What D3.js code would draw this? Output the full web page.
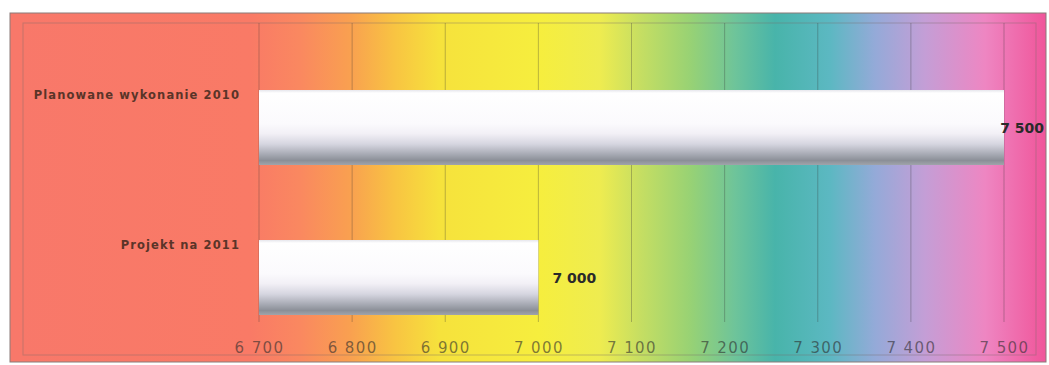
<!DOCTYPE html>
<html>
<head>
<meta charset="utf-8">
<script src="https://cdn.jsdelivr.net/npm/d3@7"></script>
<style>
  html, body { margin: 0; padding: 0; background: #ffffff; }
  svg { display: block; }
</style>
</head>
<body>
<svg id="chart" width="1049" height="365"></svg>
<script>
// Categories and values (thousands)
const categories = ["Planowane wykonanie 2010", "Projekt na 2011"];
const values = [7500, 7000];
const tickValues = [6700, 6800, 6900, 7000, 7100, 7200, 7300, 7400, 7500];

const W = 1049, H = 365;
const svg = d3.select("#chart");
const defs = svg.append("defs");

const locale = d3.formatLocale({ decimal: ",", thousands: "\u00a0", grouping: [3], currency: ["", " zł"] });
const fmt = locale.format(",d");

// Rainbow backdrop
const bg = defs.append("linearGradient").attr("id", "rainbow")
  .attr("gradientUnits", "userSpaceOnUse")
  .attr("x1", 10).attr("x2", 1046).attr("y1", 0).attr("y2", 0);
[
  [10, "#f8786a"], [250, "#f97a66"], [300, "#fa8860"], [350, "#f9a050"],
  [395, "#f8c442"], [440, "#f6e23c"], [540, "#f6ee3e"], [600, "#eeec50"],
  [640, "#c6de62"], [690, "#98d274"], [735, "#6ec49a"], [775, "#48b4aa"],
  [830, "#5cb8c2"], [875, "#94aad8"], [925, "#c49ed6"], [985, "#ee86c2"],
  [1046, "#f0559a"]
].forEach(([x, c]) => bg.append("stop").attr("offset", (x - 10) / 1036).attr("stop-color", c));

// Cylinder-like shading for the bars
const barGrad = defs.append("linearGradient").attr("id", "barShade")
  .attr("x1", 0).attr("x2", 0).attr("y1", 0).attr("y2", 1);
[
  [0, "#e6e6ec"], [0.04, "#ffffff"], [0.45, "#fbfafd"], [0.58, "#f2f0f6"],
  [0.72, "#d6d6e0"], [0.86, "#a6a9b3"], [0.94, "#8b8f97"], [1, "#a0a4ab"]
].forEach(([o, c]) => barGrad.append("stop").attr("offset", o).attr("stop-color", c));

// Chart area
svg.append("rect").attr("x", 10).attr("y", 13).attr("width", 1036).attr("height", 349)
  .attr("fill", "url(#rainbow)").attr("stroke", "#8a7a78").attr("stroke-width", 1);
svg.append("rect").attr("x", 23).attr("y", 23).attr("width", 1013).attr("height", 332)
  .attr("fill", "none").attr("stroke", "#7a6a68").attr("stroke-opacity", 0.4).attr("stroke-width", 1);

const x = d3.scaleLinear().domain([6700, 7500]).range([259, 1004]);
const y = d3.scaleBand().domain(categories).range([52.5, 352.5])
  .paddingInner(0.5).paddingOuter(0.25);

// Vertical gridlines
svg.append("g").selectAll("line").data(tickValues).join("line")
  .attr("x1", d => x(d)).attr("x2", d => x(d))
  .attr("y1", 23).attr("y2", 322)
  .attr("stroke", "#333333").attr("stroke-opacity", 0.3).attr("stroke-width", 1);

// Bars
svg.append("g").selectAll("rect").data(categories).join("rect")
  .attr("x", x(6700))
  .attr("y", d => y(d))
  .attr("width", (d, i) => x(values[i]) - x(6700))
  .attr("height", y.bandwidth())
  .attr("fill", "url(#barShade)");

// Category labels
svg.append("g").selectAll("text").data(categories).join("text")
  .attr("x", 240)
  .attr("y", d => y(d) + 9)
  .attr("text-anchor", "end")
  .attr("font-family", "DejaVu Sans, sans-serif")
  .attr("font-size", 11.5).attr("font-weight", "bold")
  .attr("letter-spacing", 1.1)
  .attr("fill", "#5a3428")
  .text(d => d);

// Value labels; a label that would run past the chart frame is pulled back inside it
svg.append("g").selectAll("text").data(categories).join("text")
  .attr("y", d => y(d) + y.bandwidth() / 2 + 5)
  .attr("font-family", "DejaVu Sans, sans-serif")
  .attr("font-size", 14).attr("font-weight", "bold")
  .attr("fill", "#2a2a2a")
  .text((d, i) => fmt(values[i]))
  .attr("x", function (d, i) {
    const w = this.getComputedTextLength();
    return Math.min(x(values[i]) + 14, 1044 - w);
  });

// X axis labels
const xAxis = d3.axisBottom(x).tickValues(tickValues).tickFormat(fmt).tickSize(0).tickPadding(0);
const ax = svg.append("g").attr("transform", "translate(0,342)").call(xAxis);
ax.select(".domain").remove();
ax.selectAll("text")
  .attr("font-family", "DejaVu Sans, sans-serif")
  .attr("font-size", 15)
  .attr("letter-spacing", 1.4)
  .attr("fill", "#2c2c2c")
  .attr("fill-opacity", 0.6);
</script>
</body>
</html>
